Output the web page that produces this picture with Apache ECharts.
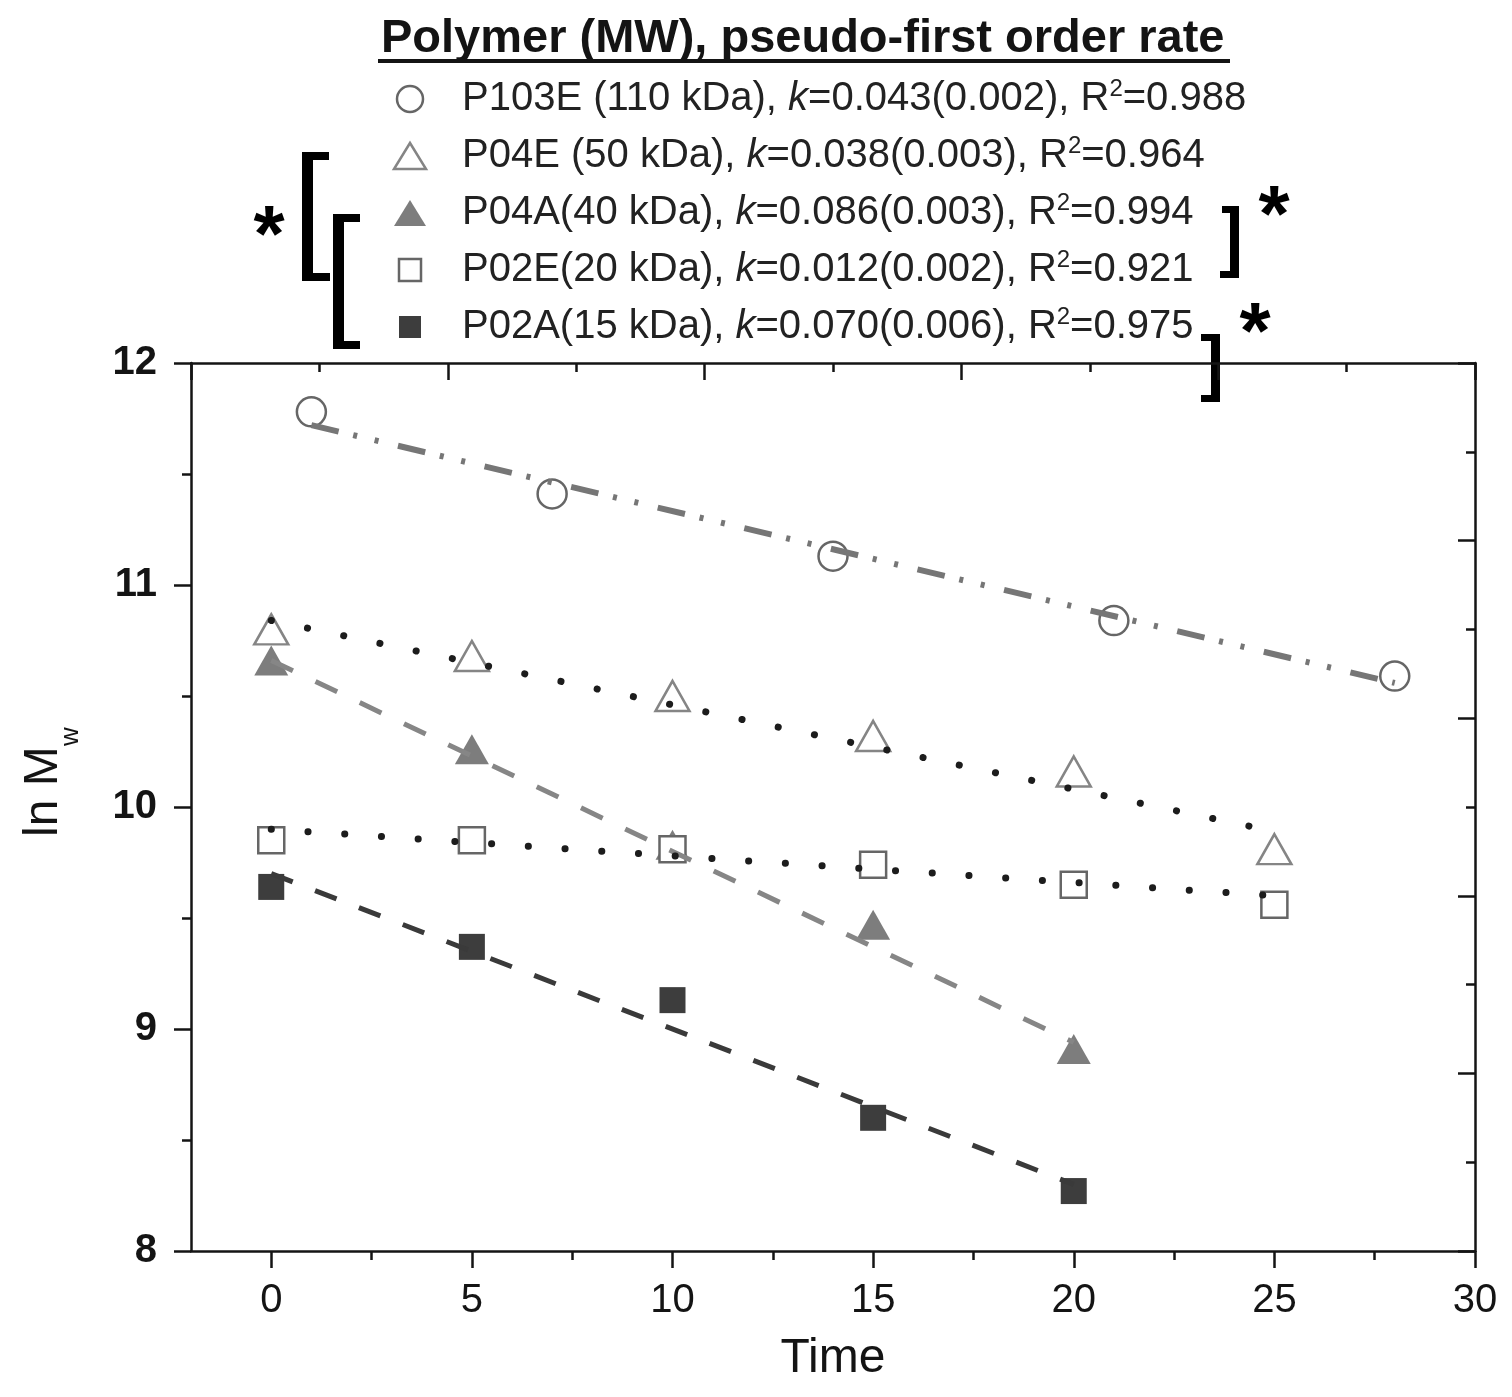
<!DOCTYPE html>
<html>
<head>
<meta charset="utf-8">
<title>ln Mw vs time</title>
<script src="https://cdn.jsdelivr.net/npm/echarts@6/dist/echarts.min.js"></script>
<style>
html, body { margin: 0; padding: 0; background: #fff; }
#chart { width: 1512px; height: 1397px; }
</style>
</head>
<body>
<div id="chart"></div>
<script>
// Degradation of the polymers: ln Mw against time with pseudo-first order fits
const polymerLabels = ['P103E (110 kDa)', 'P04E (50 kDa)', 'P04A(40 kDa)', 'P02E(20 kDa)', 'P02A(15 kDa)'];
const rateK = ['0.043', '0.038', '0.086', '0.012', '0.070'];
const rateKError = ['0.002', '0.003', '0.003', '0.002', '0.006'];
const rSquared = ['0.988', '0.964', '0.994', '0.921', '0.975'];

const timeP103E = [1, 7, 14, 21, 28];
const lnMwP103E = [11.78, 11.41, 11.13, 10.84, 10.59];
const timeP04E = [0, 5, 10, 15, 20, 25];
const lnMwP04E = [10.80, 10.68, 10.50, 10.32, 10.16, 9.81];
const timeP04A = [0, 5, 10, 15, 20];
const lnMwP04A = [10.66, 10.26, 9.83, 9.47, 8.91];
const timeP02E = [0, 5, 10, 15, 20, 25];
const lnMwP02E = [9.85, 9.85, 9.81, 9.74, 9.65, 9.56];
const timeP02A = [0, 5, 10, 15, 20];
const lnMwP02A = [9.64, 9.37, 9.13, 8.60, 8.27];

// fitted lines: ln Mw(t) = intercept - k*t over each sampled time span
const fitIntercept = [11.763, 10.84, 10.66, 9.90, 9.70];
const fitSpan = [[1, 28], [0, 25], [0, 20], [0, 25], [0, 20]];

const xTickLabels = [0, 5, 10, 15, 20, 25, 30];
const xMinorTicks = [2.5, 7.5, 12.5, 17.5, 22.5, 27.5];
const yTickLabels = [8, 9, 10, 11, 12];

const FONT = '"Liberation Sans", Arial, Helvetica, sans-serif';
const INK = '#141414';

function pairs(t, v) { return t.map((x, i) => [x, v[i]]); }
function fitLine(i) {
  const k = parseFloat(rateK[i]);
  return fitSpan[i].map(t => [t, fitIntercept[i] - k * t]);
}

const symbolStyles = [
  { symbol: 'circle',   size: 29,       itemStyle: { color: '#fff', borderColor: '#666666', borderWidth: 2.5, opacity: 1 } },
  { symbol: 'triangle', size: [34, 30], itemStyle: { color: '#fff', borderColor: '#858585', borderWidth: 2.5, opacity: 1 } },
  { symbol: 'triangle', size: [34, 30], itemStyle: { color: '#7d7d7d', opacity: 1 } },
  { symbol: 'rect',     size: 26,       itemStyle: { color: '#fff', borderColor: '#666666', borderWidth: 2.5, opacity: 1 } },
  { symbol: 'rect',     size: 26,       itemStyle: { color: '#3d3d3d', opacity: 1 } }
];
const pointSets = [
  pairs(timeP103E, lnMwP103E),
  pairs(timeP04E, lnMwP04E),
  pairs(timeP04A, lnMwP04A),
  pairs(timeP02E, lnMwP02E),
  pairs(timeP02A, lnMwP02A)
];
const fitStyles = [
  { color: '#767676', width: 6, type: [28, 15, 4, 18, 4, 20], cap: 'butt' },
  { color: '#1c1c1c', width: 7, type: [0.1, 36.9], cap: 'round' },
  { color: '#868686', width: 5, type: [24, 25], cap: 'butt' },
  { color: '#1c1c1c', width: 7, type: [0.1, 36.7], cap: 'round' },
  { color: '#3a3a3a', width: 5, type: [23, 24], cap: 'butt' }
];

const series = [];
pointSets.forEach((data, i) => {
  series.push({
    name: polymerLabels[i],
    type: 'scatter',
    data: data,
    symbol: symbolStyles[i].symbol,
    symbolSize: symbolStyles[i].size,
    itemStyle: symbolStyles[i].itemStyle,
    z: 3 + i * 0.1,
    silent: true
  });
});
pointSets.forEach((d, i) => {
  series.push({
    name: polymerLabels[i] + ' fit',
    type: 'line',
    data: fitLine(i),
    symbol: 'none',
    lineStyle: fitStyles[i],
    z: 5,
    silent: true
  });
});

// legend block, drawn as graphics
const legendRowY = [99, 156, 213, 270, 327];
const legendIconX = 410;
const legendItems = [];
legendRowY.forEach((cy, i) => {
  const st = symbolStyles[i].itemStyle;
  const style = { fill: st.color, stroke: st.borderColor || null, lineWidth: st.borderWidth || 0 };
  if (i === 0) {
    legendItems.push({ type: 'circle', shape: { cx: legendIconX, cy: cy, r: 13 }, style: style });
  } else if (i === 1 || i === 2) {
    legendItems.push({ type: 'polygon', shape: { points: [[legendIconX - 16, cy + 13], [legendIconX + 16, cy + 13], [legendIconX, cy - 13]] }, style: style });
  } else {
    legendItems.push({ type: 'rect', shape: { x: legendIconX - 11, y: cy - 11, width: 22, height: 22 }, style: style });
  }
  legendItems.push({
    type: 'text',
    x: 462, y: cy,
    style: {
      text: '{t|' + polymerLabels[i] + ', }{i|k}{t|=' + rateK[i] + '(' + rateKError[i] + '), R}{s|2}{t|=' + rSquared[i] + '}',
      verticalAlign: 'middle',
      align: 'left',
      rich: {
        t: { fontSize: 40, lineHeight: 44, fontFamily: FONT, fill: '#222', color: '#222' },
        i: { fontSize: 40, lineHeight: 44, fontFamily: FONT, fontStyle: 'italic', fill: '#222', color: '#222' },
        s: { fontSize: 24, lineHeight: 20, fontFamily: FONT, verticalAlign: 'top', fill: '#222', color: '#222' }
      }
    }
  });
});

// significance brackets
function bar(x, y, w, h) {
  return { type: 'rect', shape: { x: x, y: y, width: w, height: h }, style: { fill: '#000' } };
}
const brackets = [
  bar(302, 152, 11, 129), bar(302, 152, 27, 8), bar(302, 273, 28, 8),
  bar(333, 214, 11, 135), bar(333, 214, 27, 8), bar(333, 341, 27, 8),
  bar(1230, 206, 9, 72), bar(1222, 206, 17, 7), bar(1220, 271, 19, 7),
  bar(1211, 334, 9, 68), bar(1201, 334, 19, 7), bar(1201, 395, 19, 7)
];
function star(x, yc) {
  return { type: 'text', x: x, y: yc + 18, style: { text: '*', fontSize: 80, fontWeight: 'bold', fontFamily: FONT, fill: '#000', align: 'center', verticalAlign: 'middle' } };
}

const chart = echarts.init(document.getElementById('chart'), null, { renderer: 'canvas' });

const axisLineStyle = { color: INK, width: 2.5 };
chart.setOption({
  backgroundColor: '#fff',
  animation: false,
  grid: { left: 191, right: 37, top: 363, bottom: 146, containLabel: false },
  xAxis: [
    {
      type: 'value', min: -2, max: 30, position: 'bottom',
      axisLine: { show: true, onZero: false, lineStyle: axisLineStyle },
      axisTick: { show: true, inside: false, length: 17, customValues: xTickLabels, lineStyle: axisLineStyle },
      axisLabel: { show: true, customValues: xTickLabels, fontSize: 40, fontFamily: FONT, color: INK, margin: 30 },
      splitLine: { show: false },
      name: 'Time', nameLocation: 'middle', nameGap: 84,
      nameTextStyle: { fontSize: 48, fontFamily: FONT, color: INK }
    },
    {
      type: 'value', min: -2, max: 30, position: 'bottom',
      axisLine: { show: false, onZero: false },
      axisTick: { show: true, inside: false, length: 9, customValues: xMinorTicks, lineStyle: axisLineStyle },
      axisLabel: { show: false },
      splitLine: { show: false }
    },
    {
      type: 'value', min: 0, max: 10, interval: 2, position: 'top',
      axisLine: { show: true, onZero: false, lineStyle: axisLineStyle },
      axisTick: { show: true, inside: true, length: 17, lineStyle: axisLineStyle },
      minorTick: { show: true, splitNumber: 2, length: 9, lineStyle: axisLineStyle },
      axisLabel: { show: false },
      splitLine: { show: false }
    }
  ],
  yAxis: [
    {
      type: 'value', min: 8, max: 12, interval: 1, position: 'left',
      axisLine: { show: true, onZero: false, lineStyle: axisLineStyle },
      axisTick: { show: true, inside: false, length: 17, lineStyle: axisLineStyle },
      minorTick: { show: true, splitNumber: 2, length: 9, lineStyle: axisLineStyle },
      axisLabel: { show: true, fontSize: 40, fontWeight: 'bold', fontFamily: FONT, color: INK, margin: 34,
                   customValues: yTickLabels },
      splitLine: { show: false }
    },
    {
      type: 'value', min: 0, max: 10, interval: 2, position: 'right',
      axisLine: { show: true, onZero: false, lineStyle: axisLineStyle },
      axisTick: { show: true, inside: true, length: 17, lineStyle: axisLineStyle },
      minorTick: { show: true, splitNumber: 2, length: 9, lineStyle: axisLineStyle },
      axisLabel: { show: false },
      splitLine: { show: false }
    }
  ],
  series: series,
  graphic: {
    elements: [
      {
        type: 'text', x: 381, y: 39,
        style: { text: 'Polymer (MW), pseudo-first order rate', fontSize: 47, fontWeight: 'bold', fontFamily: FONT, fill: INK, align: 'left', verticalAlign: 'middle' }
      },
      { type: 'rect', shape: { x: 378, y: 59, width: 852, height: 4 }, style: { fill: INK } },
      {
        type: 'group', x: 0, y: 837, rotation: Math.PI / 2,
        children: [
          { type: 'text', x: 0, y: 43.4, style: { text: 'ln M', fontSize: 48, fontFamily: FONT, fill: INK, align: 'left', verticalAlign: 'middle' } },
          { type: 'text', x: 91, y: 71, style: { text: 'w', fontSize: 26, fontFamily: FONT, fill: INK, align: 'left', verticalAlign: 'middle' } }
        ]
      },
      ...legendItems,
      ...brackets,
      star(269, 221), star(1274, 201), star(1255, 318)
    ]
  }
});
</script>
</body>
</html>
